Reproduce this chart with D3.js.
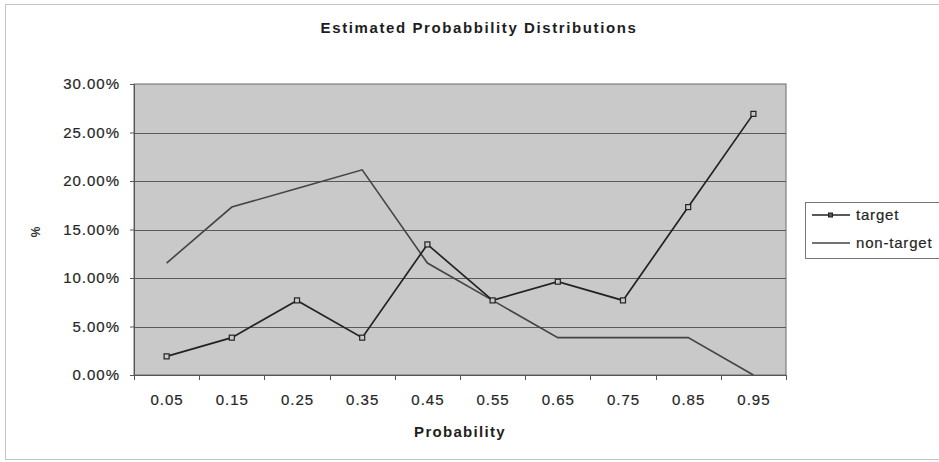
<!DOCTYPE html>
<html>
<head>
<meta charset="utf-8">
<script src="https://cdn.jsdelivr.net/npm/d3@7"></script>
<style>
  html, body { margin: 0; padding: 0; background: #fff; }
  svg { display: block; font-family: "Liberation Sans", Arial, sans-serif; }
</style>
</head>
<body>
<svg id="chart" width="939" height="462"></svg>
<script>
// Probability bins (category axis)
const categories = ["0.05", "0.15", "0.25", "0.35", "0.45", "0.55", "0.65", "0.75", "0.85", "0.95"];
// Share of cases per bin, in percent
const targetValues    = [1.92, 3.85, 7.69, 3.85, 13.46, 7.69, 9.62, 7.69, 17.31, 26.92];
const nonTargetValues = [11.54, 17.31, 19.23, 21.15, 11.54, 7.69, 3.85, 3.85, 3.85, 0.0];
// Value axis ticks
const yTicks = [0, 5, 10, 15, 20, 25, 30];

const svg = d3.select("#chart");
const plot = { left: 134, right: 786, top: 84, bottom: 375 };
const textColor = "#262626";

// Outer chart frame
svg.append("rect")
  .attr("x", 5.5).attr("y", 4.5).attr("width", 940).attr("height", 455)
  .attr("fill", "none").attr("stroke", "#c4c4c4").attr("stroke-width", 1);

const x = d3.scaleBand().domain(categories).range([plot.left, plot.right]).padding(0);
const y = d3.scaleLinear().domain([0, 30]).range([plot.bottom, plot.top]);

// Plot area background
svg.append("rect")
  .attr("x", plot.left).attr("y", plot.top)
  .attr("width", plot.right - plot.left).attr("height", plot.bottom - plot.top)
  .attr("fill", "#c9c9c9").attr("stroke", "#6a6a6a").attr("stroke-width", 1);

// Horizontal gridlines
svg.append("g").selectAll("line").data(yTicks.filter(t => t > 0 && t < 30)).join("line")
  .attr("x1", plot.left).attr("x2", plot.right)
  .attr("y1", d => Math.round(y(d)) + 0.5).attr("y2", d => Math.round(y(d)) + 0.5)
  .attr("stroke", "#5a5a5a").attr("stroke-width", 1);

// Y axis
const yAxis = d3.axisLeft(y).tickValues(yTicks).tickSize(4).tickPadding(10)
  .tickFormat(d => d.toFixed(2) + "%");
const gy = svg.append("g").attr("transform", `translate(${plot.left},0)`).call(yAxis);
gy.select(".domain").attr("stroke", "#555");
gy.selectAll(".tick line").attr("stroke", "#555");
gy.selectAll(".tick text").attr("font-size", 15).attr("fill", textColor)
  .attr("stroke", textColor).attr("stroke-width", 0.2)
  .attr("letter-spacing", 1)
  .attr("font-family", "\"Liberation Sans\", Arial, sans-serif");

// X axis: ticks between categories
const boundaries = d3.range(categories.length + 1).map(i => plot.left + i * x.bandwidth());
const gx = svg.append("g");
gx.append("line").attr("x1", plot.left).attr("x2", plot.right)
  .attr("y1", plot.bottom + 0.5).attr("y2", plot.bottom + 0.5).attr("stroke", "#555");
gx.selectAll("line.tk").data(boundaries).join("line").attr("class", "tk")
  .attr("x1", d => Math.round(d) + 0.5).attr("x2", d => Math.round(d) + 0.5)
  .attr("y1", plot.bottom).attr("y2", plot.bottom + 5).attr("stroke", "#555");
gx.selectAll("text").data(categories).join("text")
  .attr("x", d => x(d) + x.bandwidth() / 2 + 0.5).attr("y", plot.bottom + 30)
  .attr("text-anchor", "middle").attr("font-size", 15).attr("fill", textColor)
  .attr("stroke", textColor).attr("stroke-width", 0.2)
  .attr("letter-spacing", 1)
  .text(d => d);

// Titles
svg.append("text").attr("x", 479).attr("y", 33).attr("text-anchor", "middle")
  .attr("font-size", 15).attr("font-weight", "bold").attr("fill", "#1e1e1e")
  .attr("letter-spacing", 1.6)
  .text("Estimated Probabbility Distributions");
svg.append("text").attr("x", 460).attr("y", 437).attr("text-anchor", "middle")
  .attr("font-size", 15).attr("font-weight", "bold").attr("fill", "#1e1e1e")
  .attr("letter-spacing", 1.3)
  .text("Probability");
svg.append("text").attr("transform", "translate(40,232) rotate(-90)")
  .attr("text-anchor", "middle").attr("font-size", 12).attr("font-weight", "bold").attr("fill", "#333")
  .text("%");

const cx = d => x(d) + x.bandwidth() / 2;
const line = d3.line().x(d => cx(d.c)).y(d => y(d.v));

const nonTarget = categories.map((c, i) => ({ c, v: nonTargetValues[i] }));
const target = categories.map((c, i) => ({ c, v: targetValues[i] }));

svg.append("path").datum(nonTarget).attr("d", line)
  .attr("fill", "none").attr("stroke", "#444").attr("stroke-width", 1.6);
svg.append("path").datum(target).attr("d", line)
  .attr("fill", "none").attr("stroke", "#222").attr("stroke-width", 1.7);
svg.append("g").selectAll("rect").data(target).join("rect")
  .attr("x", d => cx(d.c) - 2.5).attr("y", d => y(d.v) - 2.5)
  .attr("width", 5).attr("height", 5)
  .attr("fill", "#c9c9c9").attr("stroke", "#222").attr("stroke-width", 1.2);

// Legend
const lg = svg.append("g");
lg.append("rect").attr("x", 805.5).attr("y", 202.5).attr("width", 150).attr("height", 56)
  .attr("fill", "#fff").attr("stroke", "#777");
const legendItems = [
  { name: "target", y: 215, marker: true, color: "#222" },
  { name: "non-target", y: 243, marker: false, color: "#444" }
];
legendItems.forEach(it => {
  lg.append("line").attr("x1", 812).attr("x2", 850).attr("y1", it.y).attr("y2", it.y)
    .attr("stroke", it.color).attr("stroke-width", 1.5);
  if (it.marker) {
    lg.append("rect").attr("x", 828.5).attr("y", it.y - 2).attr("width", 4).attr("height", 4)
      .attr("fill", "#555").attr("stroke", "#222").attr("stroke-width", 1);
  }
  lg.append("text").attr("x", 856).attr("y", it.y + 5).attr("font-size", 15).attr("fill", textColor)
    .attr("stroke", textColor).attr("stroke-width", 0.2)
    .attr("letter-spacing", 0.8)
    .text(it.name);
});
</script>
</body>
</html>
